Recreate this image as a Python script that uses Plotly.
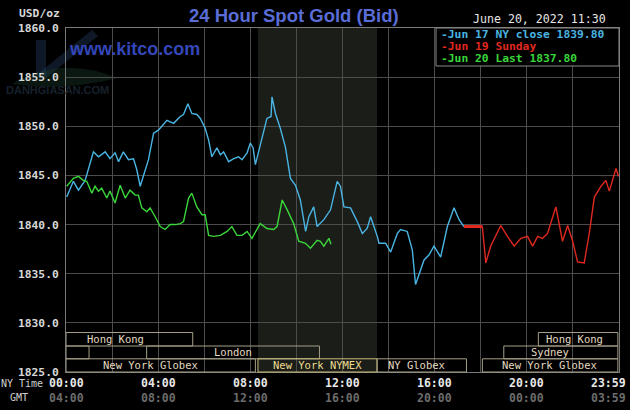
import plotly.graph_objects as go

# ---------------- data ----------------
jun17_hours = [0.03, 0.32, 0.54, 0.83, 1.19, 1.41, 1.70, 1.91, 2.13, 2.28, 2.49, 2.71, 2.93, 3.07,
               3.22, 3.36, 3.58, 3.80, 4.01, 4.16, 4.38, 4.67, 4.96, 5.10, 5.29, 5.46, 5.68, 5.83,
               6.04, 6.19, 6.33, 6.55, 6.70, 6.84, 7.06, 7.28, 7.49, 7.64, 7.86, 8.00, 8.12, 8.22,
               8.36, 8.51, 8.72, 8.90, 8.94, 9.09, 9.30, 9.52, 9.74, 9.96, 10.17, 10.40, 10.54,
               10.75, 10.90, 11.19, 11.48, 11.77, 11.91, 12.06, 12.35, 12.64, 12.86, 13.07, 13.22,
               13.51, 13.58, 13.87, 14.09, 14.38, 14.52, 14.81, 15.03, 15.17, 15.32, 15.54, 15.75,
               15.97, 16.26, 16.55, 16.84, 17.06, 17.27]
jun17_prices = [1842.8, 1844.4, 1843.5, 1844.5, 1847.4, 1846.9, 1847.4, 1846.7, 1847.3, 1846.4,
                1847.4, 1846.6, 1846.7, 1845.6, 1843.9, 1844.9, 1846.6, 1849.3, 1849.6, 1850.0,
                1850.6, 1850.3, 1851.0, 1851.2, 1852.3, 1851.3, 1851.2, 1850.8, 1849.8, 1848.6,
                1846.9, 1847.8, 1847.1, 1847.4, 1846.4, 1846.7, 1846.9, 1846.6, 1847.3, 1848.3,
                1847.8, 1846.1, 1847.4, 1848.6, 1850.8, 1851.0, 1853.0, 1851.3, 1849.8, 1847.9,
                1844.7, 1844.0, 1842.5, 1839.3, 1840.8, 1841.8, 1839.8, 1840.5, 1841.5, 1844.4,
                1843.9, 1841.8, 1841.7, 1840.3, 1839.1, 1839.6, 1840.8, 1838.8, 1838.1, 1838.1,
                1837.2, 1839.1, 1839.5, 1839.3, 1837.4, 1833.9, 1835.0, 1836.4, 1836.9, 1837.8,
                1836.7, 1839.8, 1841.7, 1840.5, 1839.8]

jun19_flat_hours = [17.27, 18.07]
jun19_flat_prices = [1839.8, 1839.8]
jun19_hours = [18.07, 18.22, 18.43, 18.87, 19.16, 19.45, 19.74, 20.03, 20.25, 20.47, 20.68, 20.90,
               21.26, 21.55, 21.77, 21.99, 22.20, 22.49, 22.71, 22.93, 23.22, 23.43, 23.58, 23.87,
               23.98]
jun19_prices = [1839.8, 1836.1, 1837.8, 1839.9, 1838.8, 1837.8, 1838.6, 1838.8, 1837.8, 1838.8,
                1838.6, 1839.1, 1841.8, 1838.3, 1839.9, 1838.3, 1836.2, 1836.1, 1839.1, 1842.8,
                1843.9, 1844.5, 1843.4, 1845.7, 1844.9]

jun20_hours = [0.03, 0.32, 0.54, 0.75, 0.90, 1.12, 1.26, 1.41, 1.55, 1.77, 1.91, 2.13, 2.35, 2.57,
               2.78, 3.00, 3.14, 3.29, 3.51, 3.65, 3.87, 4.09, 4.30, 4.52, 4.74, 4.96, 5.10, 5.32,
               5.46, 5.68, 5.90, 6.04, 6.19, 6.41, 6.70, 6.99, 7.20, 7.42, 7.64, 7.86, 8.07, 8.29,
               8.43, 8.72, 9.01, 9.16, 9.38, 9.60, 9.88, 10.10, 10.39, 10.61, 10.90, 11.04, 11.19,
               11.41, 11.50]
jun20_prices = [1843.9, 1844.7, 1844.9, 1844.5, 1844.4, 1843.2, 1843.9, 1843.4, 1843.7, 1842.7,
                1843.4, 1842.2, 1844.0, 1842.7, 1843.5, 1843.0, 1843.0, 1841.7, 1841.3, 1841.7,
                1840.8, 1839.8, 1839.5, 1840.0, 1840.0, 1840.1, 1840.3, 1842.7, 1843.2, 1841.8,
                1841.0, 1841.0, 1838.9, 1838.8, 1838.9, 1839.3, 1839.8, 1838.9, 1838.9, 1839.3,
                1838.6, 1839.5, 1840.1, 1839.6, 1839.5, 1839.8, 1842.5, 1841.5, 1840.1, 1838.3,
                1838.1, 1837.6, 1838.4, 1838.3, 1837.8, 1838.6, 1838.0]

legend_texts = ["-Jun 17 NY close 1839.80", "-Jun 19 Sunday", "-Jun 20 Last 1837.80"]

tick_hours = [0, 4, 8, 12, 16, 20, 24]
ny_tick_labels = ["00:00", "04:00", "08:00", "12:00", "16:00", "20:00", "23:59"]
gmt_tick_labels = ["04:00", "08:00", "12:00", "16:00", "20:00", "00:00", "03:59"]

nymex_hours = [8.33, 13.5]

session_names = ["Hong Kong", "Hong Kong", "Sydney", "London", "Sydney",
                 "New York Globex", "New York NYMEX", "NY Globex", "New York Globex"]
session_rows = [1, 1, 2, 2, 2, 3, 3, 3, 3]
session_start = [0.0, 20.5, 0.0, 3.5, 19.0, 0.0, 8.33, 13.5, 18.07]
session_end = [5.5, 23.95, 1.0, 11.0, 23.95, 8.22, 13.5, 17.38, 23.95]
session_label_at = [2.14, 22.09, None, 7.24, 21.02, 3.68, 10.93, 15.23, 21.0]

# ---------------- layout helpers ----------------
W, H = 630, 410
L, R, T, B = 66, 11, 28, 38
PW, PH = W - L - R, H - T - B


def px_x(p):
    return (p - L) / PW


def px_y(p):
    return (H - B - p) / PH


MONO = "DejaVu Sans Mono, Liberation Mono, monospace"
SANS = "Liberation Sans, Arial, sans-serif"

BLUE = "#4ab4e2"
RED = "#e0281f"
GREEN = "#3ad63a"

fig = go.Figure()

fig.add_trace(go.Scatter(x=jun17_hours, y=jun17_prices, mode="lines",
                         line=dict(color=BLUE, width=1.4), hoverinfo="skip"))
fig.add_trace(go.Scatter(x=jun19_flat_hours, y=jun19_flat_prices, mode="lines",
                         line=dict(color=RED, width=3), hoverinfo="skip"))
fig.add_trace(go.Scatter(x=jun19_hours, y=jun19_prices, mode="lines",
                         line=dict(color=RED, width=1.4), hoverinfo="skip"))
fig.add_trace(go.Scatter(x=jun20_hours, y=jun20_prices, mode="lines",
                         line=dict(color=GREEN, width=1.4), hoverinfo="skip"))

shapes = []
# NYMEX shaded period
shapes.append(dict(type="rect", xref="x", yref="paper", x0=nymex_hours[0], x1=nymex_hours[1],
                   y0=0, y1=1, fillcolor="#1b1d19", line=dict(width=0), layer="below"))

row_bounds = {1: (332.5, 346.0), 2: (346.0, 358.8), 3: (358.8, 372.0)}
annotations = []
for name, row, s, e, lab in zip(session_names, session_rows, session_start, session_end,
                                session_label_at):
    top, bot = row_bounds[row]
    is_nymex = "NYMEX" in name
    shapes.append(dict(type="rect", xref="x", yref="paper", x0=s, x1=e,
                       y0=px_y(bot), y1=px_y(top), fillcolor="rgba(0,0,0,0)",
                       line=dict(color="#cbbd78" if is_nymex else "#a49e86", width=1),
                       layer="above"))
    if lab is not None:
        annotations.append(dict(xref="x", yref="paper", x=lab, y=px_y((top + bot) / 2),
                                text=name, showarrow=False, xanchor="center", yanchor="middle",
                                font=dict(family=MONO, size=10.5,
                                          color="#eedc8e" if is_nymex else "#e4dac0")))

# legend box
shapes.append(dict(type="rect", xref="paper", yref="paper", x0=px_x(436), x1=px_x(619),
                   y0=px_y(66), y1=px_y(28), fillcolor="#000000",
                   line=dict(color="#8a8a8a", width=1), layer="above"))

# faint watermark logo
shapes.append(dict(type="path", xref="paper", yref="paper",
                   path="M %f,%f L %f,%f L %f,%f L %f,%f Z" % (px_x(40), px_y(72), px_x(92), px_y(30),
                                                               px_x(98), px_y(36), px_x(46), px_y(78)),
                   fillcolor="rgba(40,70,110,0.35)", line=dict(width=0), layer="below"))
shapes.append(dict(type="rect", xref="paper", yref="paper", x0=px_x(36), x1=px_x(46),
                   y0=px_y(78), y1=px_y(40), fillcolor="rgba(40,70,110,0.35)",
                   line=dict(width=0), layer="below"))
shapes.append(dict(type="path", xref="paper", yref="paper",
                   path="M %f,%f Q %f,%f %f,%f Q %f,%f %f,%f Z" % (px_x(12), px_y(84), px_x(60), px_y(55),
                                                                  px_x(118), px_y(78), px_x(60), px_y(92),
                                                                  px_x(12), px_y(84)),
                   fillcolor="rgba(30,70,50,0.35)", line=dict(width=0), layer="below"))

# legend texts
legend_colors = [BLUE, RED, GREEN]
legend_y = [34, 46.3, 58.6]
for txt, col, yy in zip(legend_texts, legend_colors, legend_y):
    annotations.append(dict(xref="paper", yref="paper", x=px_x(440), y=px_y(yy), text="<b>%s</b>" % txt,
                            showarrow=False, xanchor="left", yanchor="middle", borderpad=0,
                            font=dict(family=MONO, size=11.3, color=col)))

# titles and labels
annotations.append(dict(xref="paper", yref="paper", x=px_x(294), y=px_y(16),
                        text="<b>24 Hour Spot Gold (Bid)</b>", showarrow=False,
                        xanchor="center", yanchor="middle",
                        font=dict(family=SANS, size=18.5, color="#5a6dd6")))
annotations.append(dict(xref="paper", yref="paper", x=px_x(608), y=px_y(19),
                        text="June 20, 2022 11:30", showarrow=False,
                        xanchor="right", yanchor="middle",
                        font=dict(family=MONO, size=11.6, color="#e6e6e6")))
annotations.append(dict(xref="paper", yref="paper", x=px_x(62), y=px_y(13.5),
                        text="<b>USD/oz</b>", showarrow=False,
                        xanchor="right", yanchor="middle",
                        font=dict(family=MONO, size=11.3, color="#d8d8d8")))
annotations.append(dict(xref="paper", yref="paper", x=px_x(67), y=px_y(49),
                        text="<b>www.kitco.com</b>", showarrow=False,
                        xanchor="left", yanchor="middle",
                        font=dict(family=SANS, size=18, color="#3447b9")))
annotations.append(dict(xref="paper", yref="paper", x=px_x(4), y=px_y(90),
                        text="<b>DANHGIASAN.COM</b>", showarrow=False,
                        xanchor="left", yanchor="middle",
                        font=dict(family=SANS, size=11, color="#17212c")))

# x axis labels (two rows)
for h, ny, gmt in zip(tick_hours, ny_tick_labels, gmt_tick_labels):
    shift = -11 if h == 24 else 0
    annotations.append(dict(xref="x", yref="paper", x=h, y=px_y(383), text="<b>%s</b>" % ny,
                            showarrow=False, xanchor="center", yanchor="middle", xshift=shift,
                            font=dict(family=MONO, size=11.5, color="#e8e8e8")))
    annotations.append(dict(xref="x", yref="paper", x=h, y=px_y(397.5), text="<b>%s</b>" % gmt,
                            showarrow=False, xanchor="center", yanchor="middle", xshift=shift,
                            font=dict(family=MONO, size=11.5, color="#6c6c6c")))
annotations.append(dict(xref="paper", yref="paper", x=px_x(45), y=px_y(383), text="NY Time",
                        showarrow=False, xanchor="right", yanchor="middle",
                        font=dict(family=MONO, size=10, color="#d0d0d0")))
annotations.append(dict(xref="paper", yref="paper", x=px_x(19), y=px_y(397.5), text="GMT",
                        showarrow=False, xanchor="center", yanchor="middle",
                        font=dict(family=MONO, size=10, color="#d0d0d0")))

fig.update_layout(
    width=W, height=H,
    margin=dict(l=L, r=R, t=T, b=B, pad=0),
    paper_bgcolor="#000000", plot_bgcolor="#000000",
    showlegend=False,
    shapes=shapes, annotations=annotations,
    xaxis=dict(range=[0, 24], tickvals=list(range(0, 25, 2)), showticklabels=False,
               showgrid=True, gridcolor="#4c4c4c", gridwidth=1, zeroline=False,
               showline=True, linecolor="#7a7a7a", linewidth=1, mirror=True, ticks="",
               fixedrange=True),
    yaxis=dict(range=[1825, 1860], tick0=1825, dtick=5, tickformat=".1f",
               showgrid=True, gridcolor="#4c4c4c", gridwidth=1, zeroline=False,
               showline=True, linecolor="#7a7a7a", linewidth=1, mirror=True, ticks="",
               ticklabelstandoff=4,
               tickfont=dict(family=MONO, size=11.3, color="#d8d8d8", weight="bold"),
               fixedrange=True),
    hovermode=False,
)

fig.write_html("out.html", config={"displayModeBar": False, "staticPlot": True},
               post_script="document.body.style.margin='0';document.body.style.background='#000';")
